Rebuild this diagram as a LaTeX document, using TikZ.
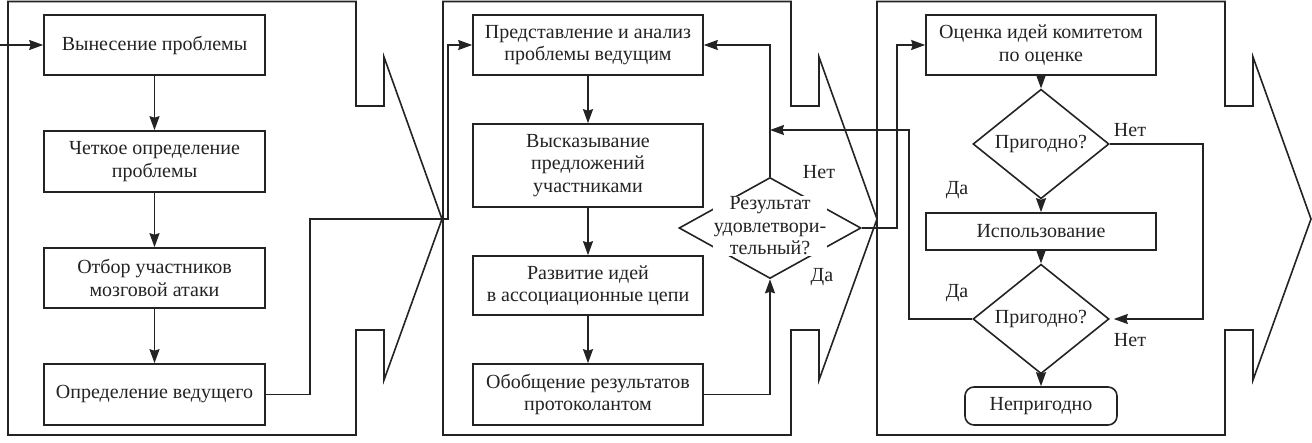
\documentclass[tikz,border=0pt]{standalone}
\usepackage{fontspec}
\setmainfont{Liberation Serif}
\usetikzlibrary{arrows.meta,shapes.geometric}
\definecolor{ink}{RGB}{35,35,35}
\tikzset{
  panel/.style={draw=ink, line width=1.6pt},
  blok/.style={draw=ink, line width=1.6pt, rectangle, align=center, inner sep=2pt},
  vopros/.style={draw=ink, line width=1.6pt, diamond, inner sep=0pt, align=center},
  strelka/.style={draw=ink, line width=1.6pt, -{Stealth[length=14pt,width=10pt,inset=1.5pt]}},
  linija/.style={draw=ink, line width=1.6pt}
}
\begin{document}
\begin{tikzpicture}[x=1pt, y=-1pt, every node/.style={font=\fontsize{20}{22.5}\selectfont, text=ink}]
\useasboundingbox (0,0) rectangle (1312,443);

% three stage arrows
\foreach \s in {8,443,877}
  \draw[panel, xshift=\s] (0,1.5) -- (348,1.5) -- (348,106) -- (376,106) -- (376,57)
    -- (434,219) -- (376,380) -- (376,330) -- (348,330) -- (348,435) -- (0,435) -- cycle;

% stage 1
\coordinate (vhod) at (0,45);
\node (b1) at (154.5,45) [blok, minimum width=221, minimum height=60] {Вынесение проблемы};
\node (b2) at (154.5,161.5) [blok, minimum width=221, minimum height=61] {Четкое определение\\проблемы};
\node (b3) at (154.5,278) [blok, minimum width=221, minimum height=60] {Отбор участников\\мозговой атаки};
\node (b4) at (154.5,394.5) [blok, minimum width=221, minimum height=61] {Определение ведущего};

% stage 2
\node (p1) at (588,45) [blok, minimum width=230, minimum height=60] {Представление и анализ\\проблемы ведущим};
\node (p2) at (588,165.5) [blok, minimum width=230, minimum height=83] {Высказывание\\предложений\\участниками};
\node (p3) at (588,285.5) [blok, minimum width=230, minimum height=59] {Развитие идей\\в ассоциационные цепи};
\node (p4) at (588,394.5) [blok, minimum width=230, minimum height=61] {Обобщение результатов\\протоколантом};
\node (d1) at (770,228) [vopros, minimum width=182, minimum height=101] {};
\node (d1t) at (770,226) [fill=white, align=center, inner sep=1pt] {Результат\\удовлетвори-\\тельный?};
\coordinate (vozvrat) at (770,130);

% stage 3
\node (o1) at (1041,45) [blok, minimum width=230, minimum height=60] {Оценка идей комитетом\\по оценке};
\node (d2) at (1041,144) [vopros, minimum width=136, minimum height=76] {Пригодно?};
\node (u) at (1041,231.5) [blok, minimum width=230, minimum height=37] {Использование};
\node (d3) at (1041,319) [vopros, minimum width=136, minimum height=77] {Пригодно?};
\node (n) at (1041,406) [blok, rounded corners=9pt, minimum width=152, minimum height=38] {Непригодно};

% labels
\node (net1) at (819,172) {Нет};
\node (da1) at (822,277) {Да};
\node (net2) at (1130,130) {Нет};
\node (da2) at (957,190) {Да};
\node (da3) at (957,293) {Да};
\node (net3) at (1130,340) {Нет};

\draw[strelka] (vhod) to (b1);
\draw[strelka] (b1) to (b2);
\draw[strelka] (b2) to (b3);
\draw[strelka] (b3) to (b4);
\draw[strelka] (b4.east) -- (310,394.5) |- (448,219) |- (p1.west);

\draw[strelka] (p1) to (p2);
\draw[strelka] (p2) to (p3);
\draw[strelka] (p3) to (p4);
\draw[strelka] (p4.east) -| (d1.south);
\draw[strelka] (d1.north) |- (p1.east);
\draw[strelka] (d1.east) -- (897,228) |- (o1.west);

\draw[strelka] (o1) to (d2);
\draw[strelka] (d2) to (u);
\draw[strelka] (u) to (d3);
\draw[strelka] (d3) to (n);
\draw[strelka] (d2.east) -- (1203,144) |- ([xshift=4pt]d3.east);
\draw[strelka] (d3.west) -- (909,319) |- (vozvrat);
\end{tikzpicture}
\end{document}
